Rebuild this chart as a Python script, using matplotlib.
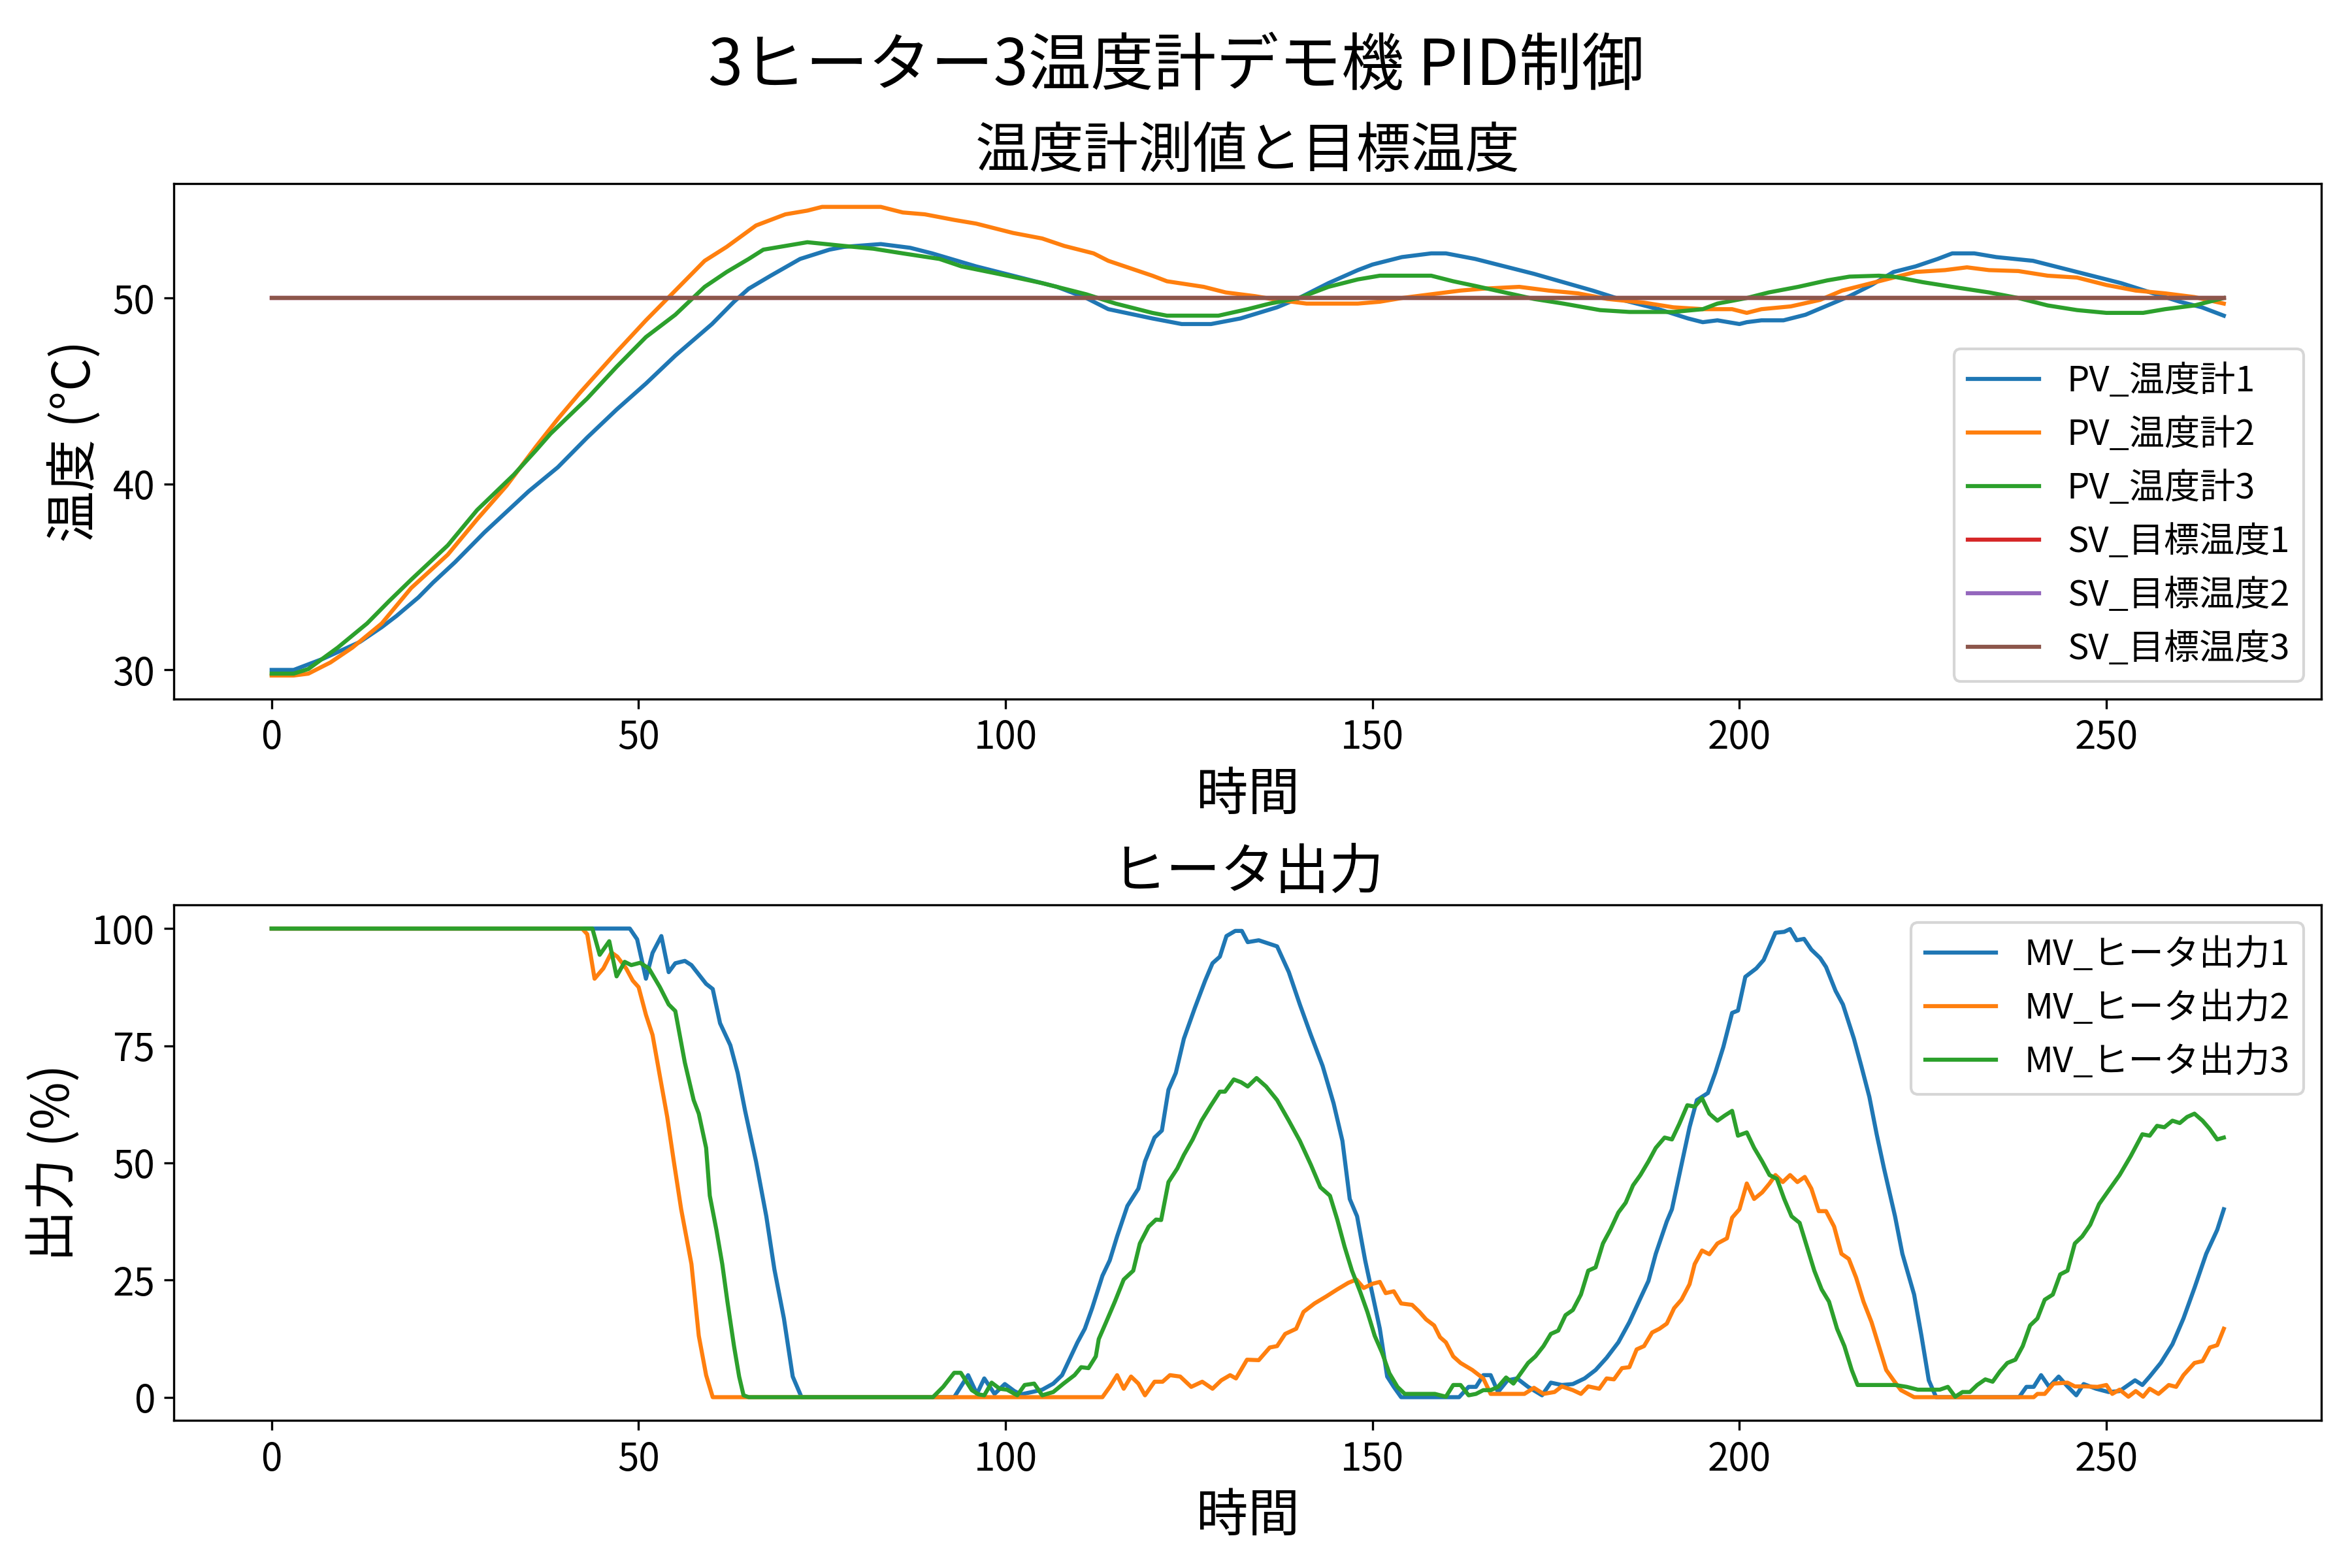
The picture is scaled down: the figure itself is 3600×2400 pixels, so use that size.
import matplotlib
matplotlib.use('Agg')
import matplotlib.pyplot as plt

plt.rcParams['font.family'] = ['Noto Sans CJK JP', 'DejaVu Sans']

# 温度計測値 (時間, 温度)
pv1_pts = [(0, 30.0), (3, 30.0), (7, 30.6), (12, 31.5), (15, 32.3), (17, 32.9), (20, 33.9),
           (22, 34.7), (25, 35.8), (29, 37.4), (32, 38.5), (35, 39.6), (39, 40.9), (43, 42.5),
           (47, 44.0), (51, 45.4), (55, 46.9), (60, 48.6), (63, 49.8), (65, 50.5), (68, 51.2),
           (72, 52.1), (76, 52.6), (78, 52.75), (83, 52.9), (87, 52.7), (90, 52.4), (96, 51.7),
           (101, 51.2), (107, 50.6), (111, 50.0), (114, 49.4), (120, 48.9), (124, 48.6),
           (128, 48.6), (132, 48.9), (137, 49.5), (140, 50.0), (144, 50.8), (148, 51.5),
           (150, 51.8), (154, 52.2), (158, 52.4), (160, 52.4), (164, 52.1), (168, 51.7),
           (172, 51.3), (176, 50.85), (180, 50.4), (184, 49.9), (189, 49.4), (193, 48.9),
           (195, 48.7), (197, 48.8), (200, 48.6), (201, 48.7), (203, 48.8), (206, 48.8),
           (209, 49.1), (212, 49.6), (215, 50.1), (218, 50.7), (221, 51.4), (224, 51.7),
           (227, 52.1), (229, 52.4), (232, 52.4), (235, 52.2), (240, 52.0), (244, 51.6),
           (248, 51.2), (252, 50.8), (256, 50.3), (260, 49.8), (263, 49.5), (266, 49.05)]
pv2_pts = [(0, 29.7), (3, 29.7), (5, 29.8), (8, 30.4), (11, 31.2), (15, 32.5), (19, 34.4),
           (24, 36.2), (28, 38.1), (32, 39.9), (36, 42.0), (39, 43.5), (42, 44.9), (47, 47.1),
           (51, 48.8), (55, 50.4), (59, 52.0), (62, 52.75), (66, 53.9), (70, 54.5), (73, 54.7),
           (75, 54.9), (83, 54.9), (86, 54.6), (89, 54.5), (93, 54.2), (96, 54.0), (101, 53.5),
           (105, 53.2), (108, 52.8), (112, 52.4), (114, 52.0), (120, 51.2), (122, 50.9),
           (127, 50.6), (130, 50.3), (134, 50.1), (137, 49.9), (141, 49.7), (144, 49.7),
           (148, 49.7), (151, 49.8), (154, 50.0), (158, 50.2), (162, 50.4), (165, 50.5),
           (170, 50.6), (174, 50.4), (178, 50.25), (182, 49.95), (187, 49.75), (191, 49.5),
           (195, 49.4), (199, 49.4), (201, 49.2), (203, 49.4), (207, 49.55), (211, 49.9),
           (214, 50.4), (218, 50.8), (221, 51.1), (224, 51.4), (228, 51.5), (231, 51.65),
           (234, 51.5), (238, 51.45), (242, 51.2), (246, 51.1), (250, 50.7), (254, 50.4),
           (258, 50.25), (262, 50.05), (266, 49.7)]
pv3_pts = [(0, 29.8), (3, 29.8), (5, 30.05), (9, 31.2), (13, 32.5), (16, 33.7), (19, 34.85),
           (24, 36.7), (28, 38.6), (33, 40.5), (36, 41.8), (38, 42.7), (43, 44.6), (47, 46.3),
           (51, 47.9), (55, 49.1), (59, 50.6), (62, 51.4), (65, 52.1), (67, 52.6), (70, 52.8),
           (73, 53.0), (78, 52.8), (82, 52.65), (86, 52.4), (91, 52.1), (94, 51.7), (99, 51.3),
           (105, 50.8), (111, 50.2), (115, 49.7), (120, 49.2), (122, 49.05), (129, 49.05),
           (133, 49.4), (136, 49.7), (140, 50.0), (144, 50.6), (148, 51.0), (151, 51.2),
           (158, 51.2), (161, 50.9), (164, 50.65), (168, 50.3), (172, 49.95), (176, 49.7),
           (181, 49.35), (185, 49.25), (191, 49.25), (195, 49.4), (197, 49.7), (201, 50.0),
           (204, 50.3), (208, 50.6), (212, 50.95), (215, 51.15), (219, 51.2), (221, 51.15),
           (225, 50.85), (229, 50.6), (234, 50.3), (238, 50.0), (242, 49.6), (246, 49.35),
           (250, 49.2), (255, 49.2), (258, 49.4), (262, 49.6), (266, 50.0)]

# 目標温度
sv_time = [0, 266]
sv1 = [50, 50]
sv2 = [50, 50]
sv3 = [50, 50]

# ヒータ出力 (時間, %)
mv1_pts = [(0, 100), (48.8, 100), (49.8, 97.7), (51.0, 89.3), (51.9, 94.8), (53.1, 98.4),
           (54.1, 90.7), (55.0, 92.6), (56.3, 93.1), (57.2, 92.2), (59.2, 88.2), (60.1, 87.1),
           (61.1, 79.8), (62.5, 75.1), (63.5, 69.2), (64.5, 61.2), (66.0, 50.3), (67.4, 38.6),
           (68.5, 27.3), (69.8, 16.8), (71.0, 4.4), (72.2, 0), (93.0, 0), (94.9, 4.7),
           (96.1, 0.7), (97.1, 4.0), (98.5, 0.7), (99.9, 2.8), (101.2, 1.3), (102.1, 0.6),
           (103.6, 1.1), (105.0, 1.6), (106.5, 2.9), (107.7, 4.7), (108.9, 8.7), (109.8, 11.7),
           (110.8, 14.6), (111.8, 19.0), (113.2, 25.9), (114.2, 29.2), (115.2, 34.3),
           (116.6, 40.8), (118.1, 44.5), (119.0, 50.3), (120.3, 55.4), (121.3, 56.9),
           (122.2, 65.6), (123.2, 69.2), (124.3, 76.5), (125.8, 83.1), (127.2, 88.9),
           (128.2, 92.6), (129.2, 94.0), (130.1, 98.4), (131.3, 99.5), (132.2, 99.5),
           (133.0, 97.1), (134.5, 97.5), (137.0, 96.2), (138.6, 90.7), (140.1, 83.8),
           (141.6, 77.3), (143.2, 70.7), (144.7, 62.7), (145.9, 54.7), (146.9, 42.3),
           (147.9, 38.6), (149.0, 29.2), (150.0, 21.9), (151.0, 14.6), (152.0, 4.4),
           (152.9, 2.2), (153.9, 0), (161.8, 0), (163.1, 2.2), (164.1, 2.2), (165.1, 4.7),
           (166.1, 4.7), (167.1, 1.1), (168.4, 3.6), (169.7, 4.0), (171.2, 2.2), (173.1, 0.4),
           (174.3, 3.1), (175.8, 2.6), (177.3, 2.8), (178.9, 4.0), (180.4, 5.8), (181.9, 8.4),
           (183.5, 11.7), (185.0, 16.0), (186.5, 21.1), (187.6, 24.8), (188.6, 30.6),
           (190.1, 37.5), (190.8, 40.1), (192.1, 49.6), (193.2, 57.6), (194.2, 63.4),
           (195.7, 64.9), (196.7, 69.2), (197.8, 74.7), (199.0, 82.0), (199.8, 82.5),
           (200.8, 89.7), (202.3, 91.5), (203.3, 93.3), (204.9, 99.1), (206.1, 99.3),
           (206.9, 99.9), (207.8, 97.5), (208.8, 97.8), (209.8, 95.5), (211.0, 93.7),
           (211.8, 91.8), (213.1, 86.7), (214.1, 83.8), (215.6, 76.5), (216.6, 70.7),
           (217.7, 64.1), (218.7, 56.1), (219.7, 48.8), (221.2, 38.6), (222.2, 30.6),
           (223.8, 21.9), (224.8, 13.1), (225.8, 3.6), (226.8, 0), (238.1, 0), (239.1, 2.2),
           (240.1, 2.2), (241.1, 4.7), (242.2, 2.2), (243.5, 4.4), (244.7, 2.3), (245.9, 0.4),
           (246.9, 2.8), (248.6, 1.8), (250.3, 1.1), (251.8, 1.3), (253.9, 3.6), (254.9, 2.6),
           (255.9, 4.4), (257.4, 7.3), (259.0, 11.3), (260.5, 16.8), (262.0, 23.3),
           (263.6, 30.6), (265.1, 35.7), (266, 40.1)]
mv2_pts = [(0, 100), (42.3, 100), (43.0, 98.8), (44.0, 89.3), (45.2, 91.5), (46.3, 94.9),
           (47.1, 94.0), (48.3, 91.5), (49.2, 88.9), (50.0, 87.5), (51.0, 81.6), (51.9, 77.3),
           (52.9, 68.5), (53.9, 59.8), (54.8, 50.3), (55.8, 40.1), (57.2, 28.4), (58.2, 13.1),
           (59.2, 4.7), (60.1, 0), (113.2, 0), (114.2, 2.2), (115.2, 4.7), (116.1, 1.8),
           (117.1, 4.4), (118.1, 2.9), (119.0, 0.4), (120.3, 3.3), (121.4, 3.3), (122.4, 4.7),
           (123.8, 4.4), (125.3, 2.2), (126.8, 3.3), (128.2, 1.8), (129.4, 3.6), (130.6, 4.7),
           (131.4, 4.0), (132.9, 8.0), (134.5, 7.9), (136.0, 10.6), (137.0, 10.9),
           (138.1, 13.5), (139.6, 14.6), (140.6, 18.2), (142.1, 20.0), (143.7, 21.5),
           (145.2, 23.0), (146.7, 24.4), (147.8, 25.1), (148.8, 23.3), (150.0, 24.2),
           (151.0, 24.6), (151.8, 22.2), (152.9, 22.6), (153.9, 20.0), (155.4, 19.7),
           (156.4, 18.2), (157.3, 16.6), (158.4, 15.3), (159.2, 12.8), (160.0, 11.7),
           (161.0, 8.7), (162.0, 7.3), (163.6, 5.8), (165.1, 4.0), (166.1, 0.7), (170.7, 0.7),
           (172.0, 2.0), (173.3, 0.7), (174.8, 1.1), (175.8, 2.3), (177.3, 1.5), (178.4, 0.7),
           (179.4, 2.3), (180.9, 1.8), (181.9, 4.0), (182.9, 3.8), (184.0, 6.2), (185.0, 6.4),
           (186.0, 10.2), (187.0, 10.9), (188.1, 13.8), (189.1, 14.6), (190.1, 15.7),
           (191.1, 19.0), (192.1, 20.8), (193.2, 24.1), (193.9, 28.4), (194.9, 31.3),
           (195.9, 30.5), (197.0, 32.8), (198.3, 33.9), (199.0, 38.3), (200.0, 40.1),
           (201.0, 45.6), (202.0, 42.3), (203.1, 43.7), (204.1, 45.6), (204.9, 47.4),
           (205.9, 45.9), (206.9, 47.4), (207.9, 45.9), (208.9, 47.0), (209.8, 44.5),
           (210.8, 39.7), (211.8, 39.7), (212.9, 36.4), (213.9, 30.6), (214.9, 29.5),
           (215.9, 25.5), (216.9, 20.4), (218.0, 16.0), (219.0, 10.9), (220.0, 5.8),
           (221.0, 3.6), (222.0, 1.5), (223.8, 0), (240.1, 0), (240.6, 0.7), (241.6, 0.7),
           (242.8, 2.9), (244.7, 3.1), (245.7, 2.3), (247.2, 2.3), (248.8, 2.2), (250.0, 2.6),
           (250.8, 0.7), (251.8, 1.6), (253.0, 0.1), (254.0, 1.3), (255.0, 0.1), (255.9, 1.8),
           (257.1, 0.7), (258.5, 2.6), (259.5, 2.2), (260.5, 4.7), (262.0, 7.3), (263.1, 7.7),
           (264.1, 10.6), (265.1, 11.1), (266, 14.6)]
mv3_pts = [(0, 100), (43.7, 100), (44.7, 94.4), (46.0, 97.3), (47.0, 89.8), (48.1, 92.9),
           (49.0, 92.2), (50.2, 92.7), (51.4, 91.5), (52.9, 87.5), (54.1, 83.8), (55.0, 82.4),
           (56.3, 71.4), (57.5, 63.4), (58.2, 60.5), (59.2, 53.2), (59.7, 43.0), (60.6, 35.7),
           (61.4, 28.4), (62.1, 20.4), (63.0, 10.9), (63.7, 4.4), (64.3, 0.4), (65.0, 0),
           (90.1, 0), (91.5, 2.2), (93.0, 5.2), (93.9, 5.2), (95.4, 1.5), (96.3, 0.6),
           (97.1, 0.4), (98.1, 3.1), (99.2, 1.8), (100.2, 1.6), (101.6, 0.4), (102.6, 2.6),
           (103.9, 2.9), (105.0, 0.4), (106.5, 1.1), (107.9, 2.9), (109.4, 4.7), (110.3, 6.4),
           (111.3, 6.2), (112.3, 8.7), (112.7, 12.4), (113.7, 16.0), (114.9, 20.4),
           (116.1, 25.1), (117.4, 27.0), (118.3, 32.8), (119.5, 36.4), (120.5, 37.9),
           (121.2, 37.8), (122.2, 45.9), (123.4, 48.8), (124.3, 51.7), (125.5, 55.0),
           (126.7, 59.0), (128.0, 62.3), (129.2, 65.2), (129.9, 65.2), (131.1, 67.8),
           (132.1, 67.2), (133.0, 66.3), (134.2, 68.1), (135.5, 66.3), (137.0, 63.4),
           (138.6, 59.0), (140.1, 54.7), (141.6, 49.6), (142.9, 44.8), (144.2, 43.0),
           (145.2, 37.9), (146.2, 32.1), (147.2, 27.0), (148.3, 22.6), (149.3, 18.2),
           (150.3, 13.1), (151.3, 9.5), (152.3, 5.1), (153.4, 2.2), (154.4, 0.7), (158.5, 0.7),
           (160.0, 0.1), (161.0, 2.6), (162.0, 2.6), (163.1, 0.4), (164.1, 0.7), (165.1, 1.5),
           (166.1, 1.5), (167.1, 2.2), (168.2, 4.2), (169.2, 2.9), (170.2, 5.1), (171.2, 7.3),
           (172.2, 8.7), (173.3, 10.9), (174.3, 13.5), (175.3, 14.2), (176.3, 17.5),
           (177.3, 18.6), (178.4, 21.9), (179.4, 27.0), (180.4, 27.7), (181.4, 32.8),
           (182.4, 35.7), (183.5, 39.4), (184.5, 41.5), (185.5, 45.2), (186.5, 47.4),
           (187.6, 50.3), (188.6, 53.2), (189.8, 55.4), (190.8, 55.0), (191.8, 58.3),
           (192.9, 62.3), (193.9, 62.0), (194.9, 63.8), (195.9, 60.5), (197.0, 59.0),
           (198.0, 60.1), (199.0, 61.1), (199.8, 55.8), (201.0, 56.5), (202.0, 53.2),
           (203.1, 50.3), (204.1, 47.4), (205.1, 46.6), (206.1, 42.3), (207.1, 38.6),
           (208.2, 37.2), (209.2, 32.1), (210.2, 27.0), (211.2, 23.0), (212.2, 20.4),
           (213.3, 14.6), (214.3, 10.9), (215.3, 5.8), (216.1, 2.6), (221.2, 2.6),
           (222.8, 2.2), (224.3, 1.6), (227.3, 1.6), (228.4, 2.2), (229.4, 0.1), (230.4, 1.1),
           (231.4, 1.1), (232.4, 2.6), (233.5, 3.8), (234.5, 3.3), (235.5, 5.5), (236.5, 7.3),
           (237.6, 8.0), (238.6, 10.9), (239.6, 15.3), (240.6, 16.8), (241.6, 20.8),
           (242.7, 21.9), (243.7, 26.2), (244.7, 27.0), (245.7, 32.8), (246.7, 34.3),
           (247.8, 36.8), (249.0, 41.2), (250.3, 44.1), (251.8, 47.4), (253.3, 51.4),
           (254.9, 56.1), (255.9, 55.8), (256.9, 57.9), (257.9, 57.6), (259.0, 59.0),
           (260.0, 58.5), (261.0, 59.8), (262.0, 60.5), (263.1, 59.0), (264.1, 57.2),
           (265.1, 55.0), (266, 55.4)]

pv_labels = ['PV_温度計1', 'PV_温度計2', 'PV_温度計3']
sv_labels = ['SV_目標温度1', 'SV_目標温度2', 'SV_目標温度3']
mv_labels = ['MV_ヒータ出力1', 'MV_ヒータ出力2', 'MV_ヒータ出力3']


def split(pts):
    return [p[0] for p in pts], [p[1] for p in pts]


fig, (ax1, ax2) = plt.subplots(2, 1, figsize=(12, 8), dpi=300)
fig.subplots_adjust(left=0.074, right=0.987, top=0.883, bottom=0.094, hspace=0.40)
fig.suptitle('3ヒーター3温度計デモ機 PID制御', fontsize=23, y=0.978)

# 温度
for pts, lab in zip([pv1_pts, pv2_pts, pv3_pts], pv_labels):
    t, v = split(pts)
    ax1.plot(t, v, label=lab)
for sv, lab in zip([sv1, sv2, sv3], sv_labels):
    ax1.plot(sv_time, sv, label=lab)
ax1.set_title('温度計測値と目標温度', fontsize=20)
ax1.set_xlabel('時間', fontsize=19)
ax1.set_ylabel('温度 (°C)', fontsize=19)
ax1.set_yticks([30, 40, 50])
ax1.set_xticks([0, 50, 100, 150, 200, 250])
ax1.tick_params(labelsize=14)
ax1.legend(loc='lower right', fontsize=13)

# ヒータ出力
for pts, lab in zip([mv1_pts, mv2_pts, mv3_pts], mv_labels):
    t, v = split(pts)
    ax2.plot(t, v, label=lab)
ax2.set_title('ヒータ出力', fontsize=20)
ax2.set_xlabel('時間', fontsize=19)
ax2.set_ylabel('出力 (%)', fontsize=19)
ax2.set_yticks([0, 25, 50, 75, 100])
ax2.set_xticks([0, 50, 100, 150, 200, 250])
ax2.tick_params(labelsize=14)
ax2.legend(loc='upper right', fontsize=13)

fig.savefig('out.png', dpi=300)
